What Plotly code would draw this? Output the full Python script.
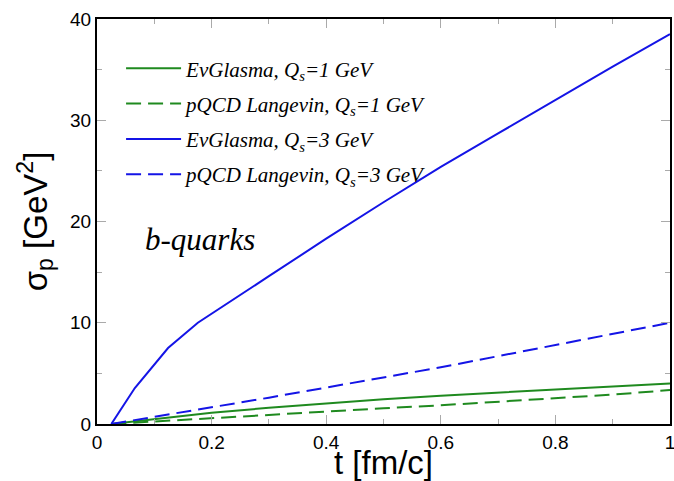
import plotly.graph_objects as go

t_blue_solid = [0.025, 0.066, 0.124, 0.176, 0.3, 0.4, 0.5, 0.6, 0.7, 0.8, 0.9, 1.0]
y_blue_solid = [0.0, 3.55, 7.5, 10.0, 14.6, 18.3, 21.9, 25.4, 28.7, 32.0, 35.3, 38.5]

t_common = [0.025, 0.1, 0.2, 0.3, 0.4, 0.5, 0.6, 0.7, 0.8, 0.9, 1.0]
y_blue_dash = [0.0, 0.7, 1.6, 2.6, 3.6, 4.6, 5.6, 6.7, 7.8, 8.9, 10.0]
y_green_solid = [0.0, 0.5, 1.1, 1.6, 2.05, 2.45, 2.8, 3.1, 3.4, 3.7, 4.0]
y_green_dash = [0.0, 0.25, 0.6, 0.95, 1.25, 1.55, 1.85, 2.2, 2.5, 2.9, 3.35]

x_tickvals = [0, 0.2, 0.4, 0.6, 0.8, 1]
x_ticktext = ["0", "0.2", "0.4", "0.6", "0.8", "1"]

names = [
    "<i>EvGlasma, Q<sub>s</sub>=1 GeV</i>",
    "<i>pQCD Langevin, Q<sub>s</sub>=1 GeV</i>",
    "<i>EvGlasma, Q<sub>s</sub>=3 GeV</i>",
    "<i>pQCD Langevin, Q<sub>s</sub>=3 GeV</i>",
]

green = "#1f8a1f"
blue = "#1414e6"
dash = "15px,7px"

fig = go.Figure()
fig.add_trace(go.Scatter(x=t_common, y=y_green_solid, mode="lines", name=names[0], legendgroup="a",
                         line=dict(color=green, width=2)))
fig.add_trace(go.Scatter(x=t_common, y=y_green_dash, mode="lines", name=names[1], legendgroup="b",
                         line=dict(color=green, width=2, dash=dash)))
fig.add_trace(go.Scatter(x=t_blue_solid, y=y_blue_solid, mode="lines", name=names[2], legendgroup="c",
                         line=dict(color=blue, width=2)))
fig.add_trace(go.Scatter(x=t_common, y=y_blue_dash, mode="lines", name=names[3], legendgroup="d",
                         line=dict(color=blue, width=2, dash=dash)))

sans = "Liberation Sans, Arial, sans-serif"
serif = "Liberation Serif, Times New Roman, serif"
tickfont = dict(family=sans, size=19, color="black")
axis_common = dict(
    showline=True, linecolor="black", linewidth=2, mirror="ticks",
    ticks="inside", ticklen=9, tickwidth=1, tickcolor="#aaaaaa",
    showgrid=False, zeroline=False, tickfont=tickfont, automargin=False,
    ticklabeloverflow="allow",
)

fig.update_layout(
    width=674, height=481,
    margin=dict(l=97, r=4, t=19, b=57),
    paper_bgcolor="white", plot_bgcolor="white",
    xaxis=dict(range=[0, 1], tickvals=x_tickvals, ticktext=x_ticktext,
               minor=dict(dtick=0.1, ticks="inside", ticklen=5, tickcolor="#aaaaaa", tickwidth=1),
               title=dict(text="t [fm/c]", font=dict(family=sans, size=33, color="black"), standoff=2),
               **axis_common),
    yaxis=dict(range=[0, 40], dtick=10,
               minor=dict(dtick=5, ticks="inside", ticklen=5, tickcolor="#aaaaaa", tickwidth=1),
               title=dict(text="σ<sub>p</sub> [GeV<sup>2</sup>]", font=dict(family=sans, size=33, color="black"), standoff=13),
               **axis_common),
    legend=dict(x=0.042, y=0.928, xanchor="left", yanchor="top", bgcolor="rgba(0,0,0,0)",
                font=dict(family=serif, size=21, color="black"),
                tracegroupgap=5, itemwidth=55),
    showlegend=True,
)

fig.add_annotation(x=0.08, y=18.2, xref="x", yref="y", text="<i>b-quarks</i>", showarrow=False,
                   xanchor="left", yanchor="middle",
                   font=dict(family=serif, size=31, color="black"))

fig.write_html("out.html", config={"displayModeBar": False},
               post_script="document.body.style.margin='0';document.body.style.padding='0';document.body.style.overflow='hidden';")
